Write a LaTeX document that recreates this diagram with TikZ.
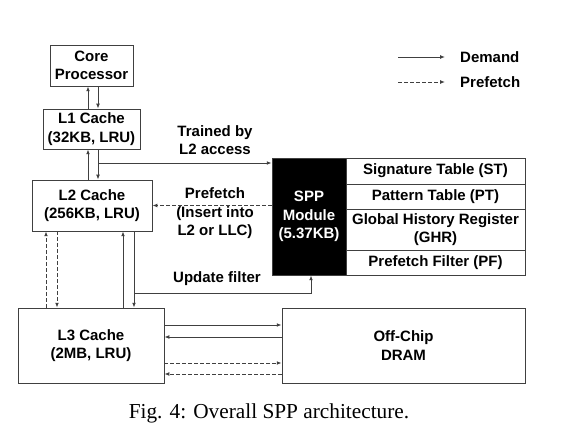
\documentclass[tikz,border=0pt]{standalone}
\usepackage{fontspec}
\setmainfont{Liberation Serif}
\setsansfont{Liberation Sans}
\usetikzlibrary{arrows.meta}
\newcommand\lblfont{\sffamily\bfseries\fontsize{15}{18.5}\selectfont}
\begin{document}
\begin{tikzpicture}[x=1pt,y=-1pt,
  box/.style={draw=black!75, line width=0.9pt, inner sep=0pt, align=center, font=\lblfont},
  dem/.style={draw=black!75, line width=0.9pt, -{Latex[length=4.8pt,width=3.8pt]}},
  pre/.style={dem, dash pattern=on 3.5pt off 2.5pt},
  lbl/.style={font=\lblfont, align=center, inner sep=0pt}]
\fill[white] (0,0) rectangle (570,438);
\useasboundingbox (0,0) rectangle (570,438);
% boxes
\node[box, minimum width=83pt, minimum height=41pt] (core) at (91.5,65.5) {Core\\Processor};
\node[box, minimum width=97pt, minimum height=40pt] (l1) at (91.5,129) {L1 Cache\\(32KB, LRU)};
\node[box, minimum width=120pt, minimum height=51pt] (l2) at (92,205.5) {L2 Cache\\(256KB, LRU)};
\node[box, minimum width=146pt, minimum height=75pt] (l3) at (91,345.5) {L3 Cache\\(2MB, LRU)};
\node[box, minimum width=243pt, minimum height=75pt] (dram) at (403.5,345.5) {Off-Chip\\DRAM};
\node[box, fill=black, text=white, minimum width=74pt, minimum height=117pt] (spp) at (309,216.5) {SPP\\Module\\(5.37KB)};
\node[box, minimum width=179pt, minimum height=26pt] (st) at (435.5,171) {Signature Table (ST)};
\node[box, minimum width=179pt, minimum height=25pt] (pt) at (435.5,196.5) {Pattern Table (PT)};
\node[box, minimum width=179pt, minimum height=41pt] (ghr) at (435.5,229.5) {Global History Register\\(GHR)};
\node[box, minimum width=179pt, minimum height=25pt] (pf) at (435.5,262.5) {Prefetch Filter (PF)};
% helper coordinates
\coordinate (xa) at (88,0);
\coordinate (xb) at (98,0);
\coordinate (xc) at (46,0);
\coordinate (xd) at (57,0);
\coordinate (xe) at (123,0);
\coordinate (xf) at (134,0);
\coordinate (xg) at (311,0);
\coordinate (tr) at (98,163);
\coordinate (uf) at (134,293);
\coordinate (ya) at (0,325);
\coordinate (yb) at (0,337);
\coordinate (yc) at (0,363);
\coordinate (yd) at (0,374);
% connectors
\draw[dem] (l1.north -| xa) -- (core.south -| xa);
\draw[dem] (core.south -| xb) -- (l1.north -| xb);
\draw[dem] (l2.north -| xa) -- (l1.south -| xa);
\draw[dem] (l1.south -| xb) -- (l2.north -| xb);
\draw[dem] (tr) -- (spp.west |- tr);
\draw[pre] (spp.west |- l2.east) -- (l2.east);
\draw[pre] (l3.north -| xc) -- (l2.south -| xc);
\draw[pre] (l2.south -| xd) -- (l3.north -| xd);
\draw[dem] (l3.north -| xe) -- (l2.south -| xe);
\draw[dem] (l2.south -| xf) -- (l3.north -| xf);
\draw[dem] (uf) -| (spp.south -| xg);
\draw[dem] (l3.east |- ya) -- (dram.west |- ya);
\draw[dem] (dram.west |- yb) -- (l3.east |- yb);
\draw[pre] (l3.east |- yc) -- (dram.west |- yc);
\draw[pre] (dram.west |- yd) -- (l3.east |- yd);
% labels
\node[lbl] (trl) at (215,140) {Trained by\\L2 access};
\node[lbl] (pfl) at (215,213.5) {Prefetch\\(Insert into\\L2 or LLC)};
\node[lbl] (ufl) at (217,279) {Update filter};
% legend
\node[lbl, anchor=west] (ldem) at (460,57) {Demand};
\node[lbl, anchor=west] (lpre) at (460,82) {Prefetch};
\coordinate (la) at (398,57);
\coordinate (lc) at (398,82);
\draw[dem] (la) -- ([xshift=-15pt]ldem.west);
\draw[pre] (lc) -- ([xshift=-15pt]lpre.west);
% caption
\node[font=\fontsize{21.3}{25}\selectfont, inner sep=0pt] (cap) at (269,413) {Fig. 4: Overall SPP architecture.};
\end{tikzpicture}
\end{document}
